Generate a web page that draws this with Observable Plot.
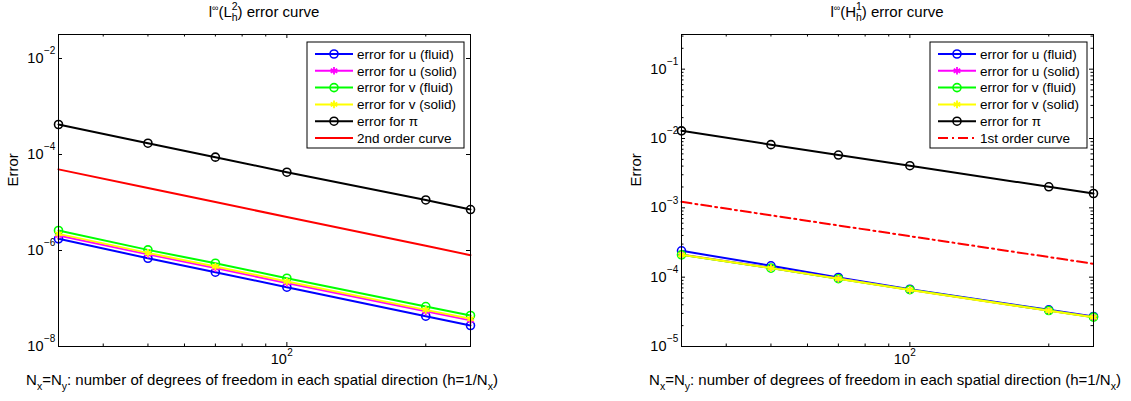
<!DOCTYPE html>
<html><head><meta charset="utf-8">
<script src="https://cdn.jsdelivr.net/npm/d3@7"></script>
<script src="https://cdn.jsdelivr.net/npm/@observablehq/plot@0.6"></script>
<style>
body{margin:0;background:#fff;font-family:"Liberation Sans",Arial,sans-serif;}
#wrap{display:flex;width:1131px;height:401px;overflow:hidden;}
</style></head><body><div id="wrap"></div>
<script>
// ---------- data ----------
const N = [32, 50, 70, 100, 200, 250];
const xMajorTicks = [100];
const xMinorTicks = [40, 50, 60, 70, 80, 90, 200];

// l∞(L2_h) panel
const l2_u_fluid = [1.75e-6, 6.9e-7, 3.53e-7, 1.72e-7, 4.28e-8, 2.74e-8];
const l2_u_solid = [2.05e-6, 8.3e-7, 4.3e-7, 2.1e-7, 5.4e-8, 3.5e-8];
const l2_v_fluid = [2.61e-6, 1.03e-6, 5.44e-7, 2.65e-7, 6.8e-8, 4.43e-8];
const l2_v_solid = [2.22e-6, 8.93e-7, 4.65e-7, 2.26e-7, 5.8e-8, 3.77e-8];
const l2_pi      = [4.22e-4, 1.72e-4, 8.8e-5, 4.28e-5, 1.13e-5, 7.14e-6];
const l2_curve   = [4.9e-5, 2.0e-5, 1.02e-5, 5.0e-6, 1.25e-6, 8.0e-7];
const l2_yExps = [-8, -6, -4, -2];

// l∞(H1_h) panel
const h1_u_fluid = [2.4e-4, 1.46e-4, 9.9e-5, 6.7e-5, 3.38e-5, 2.71e-5];
const h1_u_solid = [2.12e-4, 1.36e-4, 9.6e-5, 6.6e-5, 3.3e-5, 2.66e-5];
const h1_v_fluid = [2.1e-4, 1.35e-4, 9.5e-5, 6.6e-5, 3.3e-5, 2.65e-5];
const h1_v_solid = [2.1e-4, 1.35e-4, 9.5e-5, 6.55e-5, 3.28e-5, 2.64e-5];
const h1_pi      = [1.29e-2, 8.15e-3, 5.77e-3, 4.05e-3, 2.01e-3, 1.61e-3];
const h1_curve   = [1.22e-3, 7.8e-4, 5.57e-4, 3.9e-4, 1.95e-4, 1.56e-4];
const h1_yExps = [-5, -4, -3, -2, -1];
const minorMult = [2, 3, 4, 5, 6, 7, 8, 9];

const seriesLabels = ["error for u (fluid)", "error for u (solid)", "error for v (fluid)", "error for v (solid)", "error for \u03c0"];
const curveLabels = ["2nd order curve", "1st order curve"];
const colors = ["#0000ff", "#ff00ff", "#00ff00", "#ffff00", "#000000"];
const symbols = ["circle", "asterisk", "circle", "asterisk", "circle"];

// ---------- helpers ----------
const FONT = "Liberation Sans, Arial, sans-serif";

function panel(cfg) {
  const {W, ml, mr, yDomain, yExps, yMinor, series, curve, curveLabel, dash, titleLetter, titleSup} = cfg;
  const mt = 34, mb = 55, H = 401, fh = H - mt - mb, fw = W - ml - mr;
  const marks = [];
  const tk = {stroke: "black", strokeWidth: 1};
  marks.push(Plot.tickX(xMajorTicks, {x: d => d, insetTop: fh - 4, ...tk}));
  marks.push(Plot.tickX(xMajorTicks, {x: d => d, insetBottom: fh - 4, ...tk}));
  marks.push(Plot.tickX(xMinorTicks, {x: d => d, insetTop: fh - 2.5, ...tk}));
  marks.push(Plot.tickX(xMinorTicks, {x: d => d, insetBottom: fh - 2.5, ...tk}));
  const yMaj = yExps.map(e => Math.pow(10, e));
  marks.push(Plot.tickY(yMaj, {y: d => d, insetRight: fw - 4, ...tk}));
  marks.push(Plot.tickY(yMaj, {y: d => d, insetLeft: fw - 4, ...tk}));
  if (yMinor.length) {
    marks.push(Plot.tickY(yMinor, {y: d => d, insetRight: fw - 2.5, ...tk}));
    marks.push(Plot.tickY(yMinor, {y: d => d, insetLeft: fw - 2.5, ...tk}));
  }
  marks.push(Plot.text(yExps, {y: e => Math.pow(10, e), text: () => "10", frameAnchor: "left", textAnchor: "end", dx: -15, fontSize: 14.5, fill: "black"}));
  marks.push(Plot.text(yExps, {y: e => Math.pow(10, e), text: e => "\u2212" + (-e), frameAnchor: "left", textAnchor: "start", dx: -14.5, dy: -7.5, fontSize: 10, fill: "black"}));
  marks.push(Plot.text(xMajorTicks, {x: d => d, text: () => "10", frameAnchor: "bottom", textAnchor: "end", dy: 17, fontSize: 14.5, fill: "black"}));
  marks.push(Plot.text(xMajorTicks, {x: d => d, text: () => "2", frameAnchor: "bottom", textAnchor: "start", dx: 0.5, dy: 9.5, fontSize: 10, fill: "black"}));
  marks.push(Plot.text(["Error"], {text: d => d, frameAnchor: "left", dx: -45, dy: -4, rotate: -90, fontSize: 15, fill: "black"}));
  series.forEach((vals, i) => {
    const data = N.map((n, j) => ({n, v: vals[j]}));
    marks.push(Plot.line(data, {x: "n", y: "v", stroke: colors[i], strokeWidth: 2}));
    if (symbols[i] === "circle")
      marks.push(Plot.dot(data, {x: "n", y: "v", r: 4, stroke: colors[i], strokeWidth: 1.6, fill: "none"}));
    else
      marks.push(Plot.dot(data, {x: "n", y: "v", r: 3.6, symbol: "asterisk", stroke: colors[i], strokeWidth: 1.8}));
  });
  const cdata = N.map((n, j) => ({n, v: curve[j]}));
  marks.push(Plot.line(cdata, {x: "n", y: "v", stroke: "#ff0000", strokeWidth: 2, strokeDasharray: dash}));
  marks.push(Plot.frame({stroke: "black", strokeWidth: 1}));

  const svg = Plot.plot({
    width: W, height: H, marginLeft: ml, marginRight: mr, marginTop: mt, marginBottom: mb,
    style: {fontFamily: FONT, background: "white", overflow: "visible"},
    x: {type: "log", domain: [32, 250], axis: null},
    y: {type: "log", domain: yDomain, axis: null},
    marks
  });
  const s = d3.select(svg);
  const cx = ml + fw / 2;
  // title
  const t = s.append("text").attr("x", cx).attr("y", 17).attr("text-anchor", "middle")
    .attr("font-family", FONT).attr("font-size", 15).attr("fill", "black");
  t.append("tspan").text("l");
  t.append("tspan").attr("font-size", 9).attr("dy", -6).text("\u221e");
  t.append("tspan").attr("font-size", 15).attr("dy", 6).text("(" + titleLetter);
  t.append("tspan").attr("font-size", 10.5).attr("dy", -7).text(titleSup);
  t.append("tspan").attr("font-size", 10.5).attr("dx", -6).attr("dy", 11).text("h");
  t.append("tspan").attr("font-size", 15).attr("dy", -4).text(") error curve");
  // x label
  const xl = s.append("text").attr("x", cx - 2).attr("y", 385).attr("text-anchor", "middle")
    .attr("font-family", FONT).attr("font-size", 15).attr("fill", "black");
  xl.append("tspan").text("N");
  xl.append("tspan").attr("font-size", 10.5).attr("dy", 5).text("x");
  xl.append("tspan").attr("dy", -5).text("=N");
  xl.append("tspan").attr("font-size", 10.5).attr("dy", 5).text("y");
  xl.append("tspan").attr("dy", -5).text(": number of degrees of freedom in each spatial direction (h=1/N");
  xl.append("tspan").attr("font-size", 10.5).attr("dy", 5).text("x");
  xl.append("tspan").attr("dy", -5).text(")");
  // legend
  const lw = 157, lh = 106, lx = ml + fw - 6 - lw, ly = 42;
  const g = s.append("g").attr("transform", `translate(${lx},${ly})`);
  g.append("rect").attr("x", 0).attr("y", 0).attr("width", lw).attr("height", lh)
    .style("fill", "white").style("stroke", "black").style("stroke-width", "1px");
  const labels = seriesLabels.concat([curveLabel]);
  labels.forEach((lab, i) => {
    const ry = 12 + i * 16.8;
    const col = i < 5 ? colors[i] : "#ff0000";
    const ln = g.append("line").attr("x1", 8).attr("x2", 46).attr("y1", ry).attr("y2", ry)
      .style("stroke", col).style("stroke-width", "2px");
    if (i === 5 && dash) ln.style("stroke-dasharray", dash);
    if (i < 5) {
      if (symbols[i] === "circle")
        g.append("circle").attr("cx", 27).attr("cy", ry).attr("r", 4).style("fill", "none").style("stroke", col).style("stroke-width", "1.6px");
      else
        g.append("path").attr("d", d3.symbol(d3.symbolAsterisk, 40)()).attr("transform", `translate(27,${ry})`)
          .style("stroke", col).style("stroke-width", "1.8px").style("fill", "none");
    }
    g.append("text").attr("x", 50).attr("y", ry).attr("dy", "0.35em").attr("text-anchor", "start")
      .attr("font-family", FONT).attr("font-size", 13.5).style("fill", "black").text(lab);
  });
  return svg;
}

const h1Minor = [];
[-5, -4, -3, -2, -1].forEach(e => minorMult.forEach(m => { const v = m * Math.pow(10, e); if (v <= Math.pow(10, -0.5)) h1Minor.push(v); }));

const wrap = document.getElementById("wrap");
wrap.appendChild(panel({
  W: 565, ml: 58, mr: 95, yDomain: [1e-8, Math.pow(10, -1.5)], yExps: l2_yExps, yMinor: [],
  series: [l2_u_fluid, l2_u_solid, l2_v_fluid, l2_v_solid, l2_pi], curve: l2_curve,
  curveLabel: curveLabels[0], dash: null, titleLetter: "L", titleSup: "2"
}));
wrap.appendChild(panel({
  W: 566, ml: 116, mr: 38, yDomain: [1e-5, Math.pow(10, -0.5)], yExps: h1_yExps, yMinor: h1Minor,
  series: [h1_u_fluid, h1_u_solid, h1_v_fluid, h1_v_solid, h1_pi], curve: h1_curve,
  curveLabel: curveLabels[1], dash: "10,4,2,4", titleLetter: "H", titleSup: "1"
}));
</script></body></html>
